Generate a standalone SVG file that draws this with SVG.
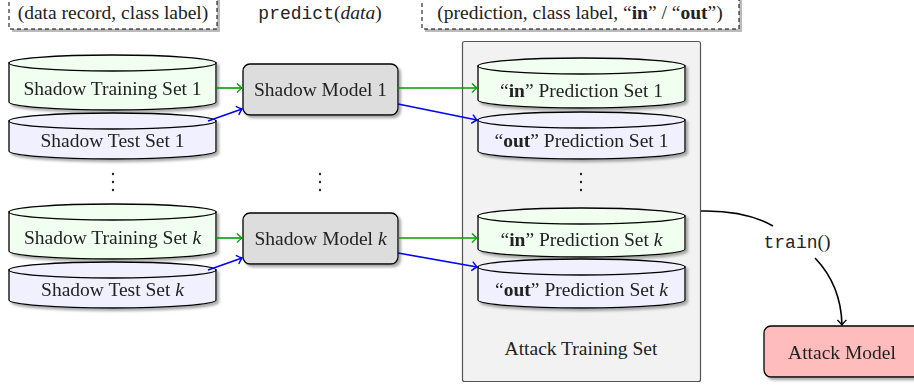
<svg xmlns="http://www.w3.org/2000/svg" width="914" height="389" viewBox="0 0 914 389">
<defs>
<filter id="sh" x="-10%" y="-20%" width="130%" height="150%">
<feDropShadow dx="2.5" dy="2.5" stdDeviation="1" flood-color="#666" flood-opacity="0.55"/>
</filter>
<marker id="ag" markerWidth="12" markerHeight="12" refX="0" refY="0" viewBox="-6 -6 12 12" orient="auto" markerUnits="userSpaceOnUse"><path d="M-5,-4.5 Q-1.5,-1 0,0 Q-1.5,1 -5,4.5" fill="none" stroke="#00a000" stroke-width="1.4"/></marker>
<marker id="ab" markerWidth="12" markerHeight="12" refX="0" refY="0" viewBox="-6 -6 12 12" orient="auto" markerUnits="userSpaceOnUse"><path d="M-5,-4.5 Q-1.5,-1 0,0 Q-1.5,1 -5,4.5" fill="none" stroke="#0000ff" stroke-width="1.4"/></marker>
<marker id="ak" markerWidth="12" markerHeight="12" refX="0" refY="0" viewBox="-6 -6 12 12" orient="auto" markerUnits="userSpaceOnUse"><path d="M-5,-4.5 Q-1.5,-1 0,0 Q-1.5,1 -5,4.5" fill="none" stroke="#000" stroke-width="1.4"/></marker>
</defs>
<style>
text{font-family:"Liberation Serif","DejaVu Serif",serif;font-size:19.5px;fill:#222;}
.c{text-anchor:middle;}
.mono{font-family:"Liberation Mono","DejaVu Sans Mono",monospace;font-size:18px;}
.it{font-style:italic;}
.b{font-weight:bold;}
.cyl{stroke:#000;stroke-width:1.3;}
.tr{fill:#f0fff0;}
.te{fill:#f0f0ff;}
.lbl{fill:#fff;stroke:#000;stroke-width:1;stroke-dasharray:4,3;}
.lsh{fill:#bbb;}
.dot{fill:#222;}
.g{stroke:#00a000;stroke-width:1.6;fill:none;marker-end:url(#ag);}
.bl{stroke:#0000ff;stroke-width:1.6;fill:none;marker-end:url(#ab);}
.k{stroke:#000;stroke-width:1.6;fill:none;}
</style>

<!-- top labels -->
<g id="label-data">
<rect class="lsh" x="12" y="-5" width="208" height="37"/>
<rect class="lbl" x="9" y="-8" width="208" height="37"/>
<text class="c" x="113" y="19">(data record, class label)</text>
</g>
<g id="label-predict">
<text class="c" x="320" y="19"><tspan class="mono">predict</tspan>(<tspan class="it">data</tspan>)</text>
</g>
<g id="label-prediction">
<rect class="lsh" x="425" y="-5" width="317" height="37"/>
<rect class="lbl" x="422" y="-8" width="317" height="37"/>
<text class="c" x="580" y="19">(prediction, class label, “<tspan class="b">in</tspan>” / “<tspan class="b">out</tspan>”)</text>
</g>

<!-- attack training set container -->
<g id="attack-training-set">
<rect x="462.5" y="41.5" width="238" height="340" rx="2" fill="#f2f2f2" stroke="#555" stroke-width="1.2"/>
<text class="c" x="581" y="355">Attack Training Set</text>
</g>

<!-- left cylinders -->
<g id="shadow-training-1" filter="url(#sh)">
<path class="cyl tr" d="M9,63 L9,102 A103.5,8 0 0 0 216,102 L216,63 Z"/>
<ellipse class="cyl tr" cx="112.5" cy="63" rx="103.5" ry="8"/>
<text class="c" x="112.5" y="95">Shadow Training Set 1</text>
</g>
<g id="shadow-test-1" filter="url(#sh)">
<path class="cyl te" d="M9,121 L9,151 A103.5,8 0 0 0 216,151 L216,121 Z"/>
<ellipse class="cyl te" cx="112.5" cy="121" rx="103.5" ry="8"/>
<text class="c" x="112.5" y="147">Shadow Test Set 1</text>
</g>
<g id="shadow-training-k" filter="url(#sh)">
<path class="cyl tr" d="M9,212 L9,251 A103.5,8 0 0 0 216,251 L216,212 Z"/>
<ellipse class="cyl tr" cx="112.5" cy="212" rx="103.5" ry="8"/>
<text class="c" x="112.5" y="244">Shadow Training Set <tspan class="it">k</tspan></text>
</g>
<g id="shadow-test-k" filter="url(#sh)">
<path class="cyl te" d="M9,270 L9,300 A103.5,8 0 0 0 216,300 L216,270 Z"/>
<ellipse class="cyl te" cx="112.5" cy="270" rx="103.5" ry="8"/>
<text class="c" x="112.5" y="296">Shadow Test Set <tspan class="it">k</tspan></text>
</g>

<!-- shadow models -->
<g id="shadow-model-1" filter="url(#sh)">
<rect x="243" y="64" width="155" height="51" rx="7" fill="#dddddd" stroke="#000" stroke-width="1.3"/>
<text class="c" x="320.5" y="96">Shadow Model 1</text>
</g>
<g id="shadow-model-k" filter="url(#sh)">
<rect x="243" y="213" width="155" height="51" rx="7" fill="#dddddd" stroke="#000" stroke-width="1.3"/>
<text class="c" x="320.5" y="245">Shadow Model <tspan class="it">k</tspan></text>
</g>

<!-- right cylinders -->
<g id="in-prediction-1" filter="url(#sh)">
<path class="cyl tr" d="M478,66 L478,100 A103.5,8 0 0 0 685,100 L685,66 Z"/>
<ellipse class="cyl tr" cx="581.5" cy="66" rx="103.5" ry="8"/>
<text class="c" x="581.5" y="97">“<tspan class="b">in</tspan>” Prediction Set 1</text>
</g>
<g id="out-prediction-1" filter="url(#sh)">
<path class="cyl te" d="M478,120 L478,151 A103.5,8 0 0 0 685,151 L685,120 Z"/>
<ellipse class="cyl te" cx="581.5" cy="120" rx="103.5" ry="8"/>
<text class="c" x="581.5" y="147">“<tspan class="b">out</tspan>” Prediction Set 1</text>
</g>
<g id="in-prediction-k" filter="url(#sh)">
<path class="cyl tr" d="M478,216 L478,249 A103.5,8 0 0 0 685,249 L685,216 Z"/>
<ellipse class="cyl tr" cx="581.5" cy="216" rx="103.5" ry="8"/>
<text class="c" x="581.5" y="246">“<tspan class="b">in</tspan>” Prediction Set <tspan class="it">k</tspan></text>
</g>
<g id="out-prediction-k" filter="url(#sh)">
<path class="cyl te" d="M478,267 L478,300 A103.5,8 0 0 0 685,300 L685,267 Z"/>
<ellipse class="cyl te" cx="581.5" cy="267" rx="103.5" ry="8"/>
<text class="c" x="581.5" y="296">“<tspan class="b">out</tspan>” Prediction Set <tspan class="it">k</tspan></text>
</g>

<!-- attack model -->
<g id="attack-model" filter="url(#sh)">
<rect x="764" y="326" width="160" height="51" rx="7" fill="#ffbcbc" stroke="#000" stroke-width="1.3"/>
<text class="c" x="842" y="359">Attack Model</text>
</g>

<!-- vertical dots -->
<g id="dots">
<circle class="dot" cx="113" cy="174" r="1.2"/><circle class="dot" cx="113" cy="182" r="1.2"/><circle class="dot" cx="113" cy="190" r="1.2"/>
<circle class="dot" cx="320" cy="174" r="1.2"/><circle class="dot" cx="320" cy="182" r="1.2"/><circle class="dot" cx="320" cy="190" r="1.2"/>
<circle class="dot" cx="581" cy="174" r="1.2"/><circle class="dot" cx="581" cy="182" r="1.2"/><circle class="dot" cx="581" cy="190" r="1.2"/>
</g>

<!-- connectors -->
<g id="connectors">
<path class="g" d="M216,88 L242,88"/>
<path class="bl" d="M208,121 L242,109"/>
<path class="g" d="M398,88 L477,88"/>
<path class="bl" d="M398,104 L477,120"/>
<path class="g" d="M216,238 L242,238"/>
<path class="bl" d="M208,270 L242,258"/>
<path class="g" d="M398,238 L477,238"/>
<path class="bl" d="M398,253 L477,267"/>
<path class="k" d="M701,211 Q745,210 773,226"/>
<path class="k" d="M815,258 Q841,285 842,325" marker-end="url(#ak)"/>
<text class="c" x="797" y="248"><tspan class="mono">train</tspan>()</text>
</g>
</svg>
